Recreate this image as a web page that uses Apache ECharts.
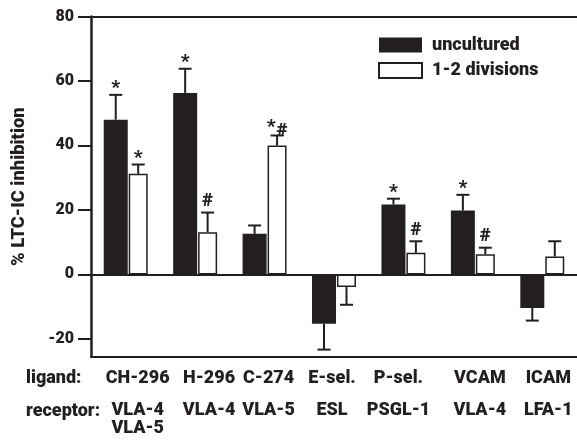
<!DOCTYPE html>
<html><head><meta charset="utf-8">
<script src="https://cdn.jsdelivr.net/npm/echarts@6/dist/echarts.min.js"></script>
<style>html,body{margin:0;padding:0;background:#fff}#c{width:577px;height:441px}</style>
</head><body><div id="c"></div>
<script>
// ---- data ----
const ligands = ['CH-296', 'H-296', 'C-274', 'E-sel.', 'P-sel.', 'VCAM', 'ICAM'];
const receptors = ['VLA-4\nVLA-5', 'VLA-4', 'VLA-5', 'ESL', 'PSGL-1', 'VLA-4', 'LFA-1'];
const seriesNames = ['uncultured', '1-2 divisions'];
const unculturedMean = [48.0, 56.3, 12.6, -15.3, 21.7, 19.8, -10.4];
const unculturedErr  = [7.7, 7.5, 2.6, 8.0, 1.8, 4.9, 3.9];
const dividedMean    = [31.2, 13.1, 40.0, -3.9, 6.7, 6.3, 5.6];
const dividedErr     = [2.9, 6.1, 3.1, 5.5, 3.6, 2.0, 4.7];
const unculturedMarks = ['*', '*', '', '', '*', '*', ''];
const dividedMarks    = ['*', '#', '*#', '', '#', '#', ''];
const yTicks = [-20, 0, 20, 40, 60, 80];
const yMin = -25.5, yMax = 80;

// ---- layout / style ----
const INK = '#231f20';
const FONT = 'Roboto, "Liberation Sans", Arial, sans-serif';
const W = 900;
const BW_BLACK = 24, BW_WHITE = 19, GAP_PCT = 0.04;
const total = BW_BLACK * (1 + GAP_PCT) + BW_WHITE;
const DX_BLACK = -total / 2 + BW_BLACK / 2;
const DX_WHITE = -total / 2 + BW_BLACK * (1 + GAP_PCT) + BW_WHITE / 2;
const labelShift = [12, 14, 4, -2, -5, 7, 6];

function richFor(fontSize, lineHeight) {
  const r = {};
  labelShift.forEach((s, i) => {
    r['p' + i] = {
      fontFamily: FONT, fontWeight: W, fontSize: fontSize, lineHeight: lineHeight, color: INK,
      padding: s >= 0 ? [0, 0, 0, 2 * s] : [0, -2 * s, 0, 0]
    };
  });
  return r;
}
function shiftedLabel(value, idx) {
  return String(value).split('\n').map(s => '{p' + idx + '|' + s + '}').join('\n');
}

function errorRenderer(means, errs, marks, dx) {
  return function (params, api) {
    const i = params.dataIndex;
    const m = means[i], e = errs[i];
    const end = m >= 0 ? m + e : m - e;
    const p0 = api.coord([i, m]);
    const p1 = api.coord([i, end]);
    const x = p0[0] + dx;
    const children = [
      { type: 'line', shape: { x1: x, y1: p0[1], x2: x, y2: p1[1] }, style: { stroke: INK, lineWidth: 2 } },
      { type: 'line', shape: { x1: x - 6.5, y1: p1[1], x2: x + 6.5, y2: p1[1] }, style: { stroke: INK, lineWidth: 2 } }
    ];
    const mk = marks[i];
    const font = W + ' 19px ' + FONT;
    if (mk === '*') {
      children.push({ type: 'text', x: x, y: p1[1] + 3, style: { text: '*', font, fill: INK, align: 'center', verticalAlign: 'bottom' } });
    } else if (mk === '#') {
      children.push({ type: 'text', x: x, y: p1[1] - 2, style: { text: '#', font, fill: INK, align: 'center', verticalAlign: 'bottom' } });
    } else if (mk === '*#') {
      children.push({ type: 'text', x: x - 6, y: p1[1] + 1, style: { text: '*', font, fill: INK, align: 'center', verticalAlign: 'bottom' } });
      children.push({ type: 'text', x: x + 5, y: p1[1] + 5, style: { text: '#', font, fill: INK, align: 'center', verticalAlign: 'bottom' } });
    }
    return { type: 'group', children };
  };
}

const chart = echarts.init(document.getElementById('c'), null, { renderer: 'canvas' });
chart.setOption({
  animation: false,
  backgroundColor: '#fff',
  grid: { left: 91, top: 16.5, width: 488, height: 340.2 },
  legend: {
    orient: 'vertical', left: 378, top: 36, padding: 0, itemWidth: 43, itemHeight: 15, itemGap: 7.5,
    icon: 'rect', data: seriesNames,
    textStyle: { fontFamily: FONT, fontWeight: W, fontSize: 18, lineHeight: 15, color: INK, padding: [0, 0, 0, 5] }
  },
  xAxis: [
    { type: 'category', data: ligands, position: 'bottom',
      axisLine: { onZero: false, lineStyle: { color: INK, width: 2 } }, axisTick: { show: false },
      axisLabel: { margin: 12, interval: 0, formatter: shiftedLabel, rich: richFor(18, 20) } },
    { type: 'category', data: receptors, position: 'bottom',
      axisLine: { show: false }, axisTick: { show: false },
      axisLabel: { margin: 45, interval: 0, formatter: shiftedLabel, rich: richFor(18, 18) } },
    { type: 'category', data: ligands, position: 'top',
      axisLine: { onZero: false, lineStyle: { color: INK, width: 2 } }, axisTick: { show: false },
      axisLabel: { show: false } }
  ],
  yAxis: {
    type: 'value', min: yMin, max: yMax, position: 'left',
    axisLine: { show: true, onZero: false, lineStyle: { color: INK, width: 2.5 } },
    axisTick: { show: true, length: 13, lineStyle: { color: INK, width: 2 }, customValues: yTicks },
    axisLabel: { customValues: yTicks, margin: 17, color: INK, fontFamily: FONT, fontWeight: W, fontSize: 16 },
    splitLine: { show: false },
    name: '% LTC-IC inhibition', nameLocation: 'middle', nameGap: 63,
    nameTextStyle: { fontFamily: FONT, fontWeight: W, fontSize: 18.4, color: INK }
  },
  graphic: [
    { type: 'text', x: 26, y: 378.7, style: { text: 'ligand:', font: W + ' 18px ' + FONT, fill: INK, verticalAlign: 'middle' } },
    { type: 'text', x: 26, y: 411, style: { text: 'receptor:', font: W + ' 18px ' + FONT, fill: INK, verticalAlign: 'middle' } }
  ],
  series: [
    { name: seriesNames[0], type: 'bar', data: unculturedMean, barWidth: BW_BLACK, barGap: (GAP_PCT * 100) + '%',
      itemStyle: { color: INK } },
    { name: seriesNames[1], type: 'bar', data: dividedMean, barWidth: BW_WHITE, barGap: (GAP_PCT * 100) + '%',
      itemStyle: { color: '#fff', borderColor: INK, borderWidth: 1.5 },
      markLine: { silent: true, symbol: 'none', label: { show: false },
        lineStyle: { color: INK, width: 2, type: 'solid' }, data: [{ yAxis: 0 }] } },
    { type: 'custom', renderItem: errorRenderer(unculturedMean, unculturedErr, unculturedMarks, DX_BLACK),
      data: unculturedMean.map((v, i) => [i, v]), z: 5 },
    { type: 'custom', renderItem: errorRenderer(dividedMean, dividedErr, dividedMarks, DX_WHITE),
      data: dividedMean.map((v, i) => [i, v]), z: 5 }
  ]
});
</script></body></html>
